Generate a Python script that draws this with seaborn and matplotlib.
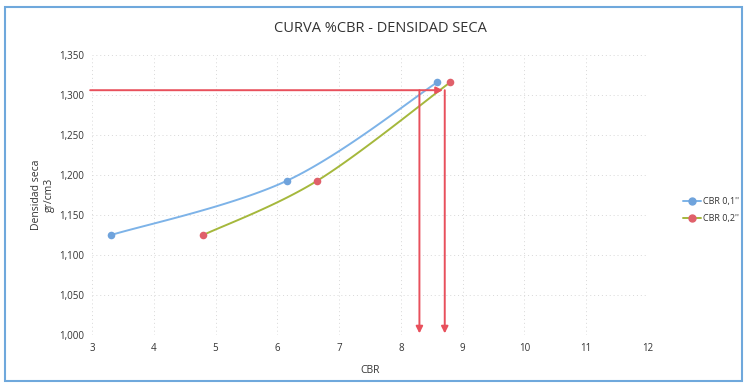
import numpy as np
import pandas as pd
import matplotlib
matplotlib.use("Agg")
import matplotlib.pyplot as plt
from matplotlib.patches import Rectangle
from matplotlib.lines import Line2D
import seaborn as sns

# CBR readings and dry density for each penetration
cbr_01 = [3.31, 6.16, 8.59]
cbr_02 = [4.80, 6.65, 8.80]
densidad = [1.125, 1.193, 1.316]
series_names = ["CBR 0,1''", "CBR 0,2''"]

# design density and the CBR values read from it
densidad_diseno = 1.306
cbr_leidos = [8.30, 8.71]
cbr_inicio = 2.97
cbr_flecha = 8.68

x_ticks = list(range(3, 13))
y_ticks = [1.000, 1.050, 1.100, 1.150, 1.200, 1.250, 1.300, 1.350]

sns.set_theme(style="white")
plt.rcParams["font.family"] = ["Open Sans", "DejaVu Sans"]

fig = plt.figure(figsize=(7.47, 3.88), dpi=100)
ax = fig.add_axes([92 / 747, 1 - 335 / 388, 556 / 747, 280 / 388])
ax.set_xlim(3, 12)
ax.set_ylim(1.0, 1.35)

line_colors = ["#7DB3E8", "#A5B83C"]
marker_colors = ["#6FA3DC", "#E0606A"]


def smooth(xs, ys, n=40):
    """Excel-style smoothed line (Catmull-Rom in screen space)."""
    pts = ax.transData.transform(np.column_stack([xs, ys]))
    p = np.vstack([pts[0], pts, pts[-1]])
    out = []
    for i in range(1, len(p) - 2):
        p0, p1, p2, p3 = p[i - 1], p[i], p[i + 1], p[i + 2]
        b1 = p1 + (p2 - p0) / 6
        b2 = p2 - (p3 - p1) / 6
        t = np.linspace(0, 1, n)[:, None]
        seg = ((1 - t) ** 3) * p1 + 3 * ((1 - t) ** 2) * t * b1 + 3 * (1 - t) * t ** 2 * b2 + t ** 3 * p2
        out.append(seg if i == 1 else seg[1:])
    out = ax.transData.inverted().transform(np.vstack(out))
    return out[:, 0], out[:, 1]


for xs, name, lc, mc in zip([cbr_01, cbr_02], series_names, line_colors, marker_colors):
    sx, sy = smooth(xs, densidad)
    curve = pd.DataFrame({"CBR": sx, "Densidad": sy})
    sns.lineplot(data=curve, x="CBR", y="Densidad", ax=ax, color=lc, lw=1.4,
                 sort=False, estimator=None, zorder=3)
    pts = pd.DataFrame({"CBR": xs, "Densidad": densidad})
    sns.scatterplot(data=pts, x="CBR", y="Densidad", ax=ax, color=mc, s=30,
                    edgecolor=mc, linewidth=0, zorder=4)

# design-density reading lines
red = "#E8505C"
ax.annotate("", xy=(cbr_flecha, densidad_diseno), xytext=(cbr_inicio, densidad_diseno),
            arrowprops=dict(arrowstyle="-|>", color=red, lw=1.4, mutation_scale=10,
                            shrinkA=0, shrinkB=0), annotation_clip=False, zorder=5)
for c in cbr_leidos:
    ax.annotate("", xy=(c, 1.002), xytext=(c, densidad_diseno),
                arrowprops=dict(arrowstyle="-|>", color=red, lw=1.4, mutation_scale=10,
                                shrinkA=0, shrinkB=0), annotation_clip=False, zorder=5)

ax.set_xticks(x_ticks)
ax.set_yticks(y_ticks)
ax.set_yticklabels([f"{v:.3f}".replace(".", ",") for v in y_ticks])
ax.tick_params(axis="both", labelsize=7, colors="#333333", length=0, pad=6)
ax.grid(True, color="#D8D8D8", linestyle=(0, (1, 3)), lw=0.7)
for s in ax.spines.values():
    s.set_visible(False)
ax.axhline(1.0, color="#CFCFCF", lw=0.7, ls=(0, (1, 2)), zorder=1)

ax.set_xlabel("CBR", fontsize=7.5, color="#333333", labelpad=8)
ax.set_ylabel("Densidad seca\ngr/cm3", fontsize=7.5, color="#333333", labelpad=3,
              linespacing=1.2)
fig.text(380 / 747, 1 - 28 / 388, "CURVA %CBR - DENSIDAD SECA", ha="center", va="center",
         fontsize=10.5, color="#333333")

# legend
handles = [
    Line2D([], [], color=line_colors[0], marker="o", markersize=5,
           markerfacecolor=marker_colors[0], markeredgecolor=marker_colors[0], lw=1.4),
    Line2D([], [], color=line_colors[1], marker="o", markersize=5,
           markerfacecolor=marker_colors[1], markeredgecolor=marker_colors[1], lw=1.4),
]
fig.legend(handles, series_names, loc="center left", bbox_to_anchor=(678 / 747, 1 - 210 / 388),
           frameon=False, fontsize=6.5, handlelength=2.0, handletextpad=0.3,
           labelspacing=0.9, borderpad=0, labelcolor="#333333")

# chart border
fig.patches.append(Rectangle((5 / 747, 1 - 381 / 388), 737 / 747, 374 / 388,
                             transform=fig.transFigure, fill=False,
                             edgecolor="#6FA8DC", lw=1.5))

fig.savefig("out.png", dpi=100)
